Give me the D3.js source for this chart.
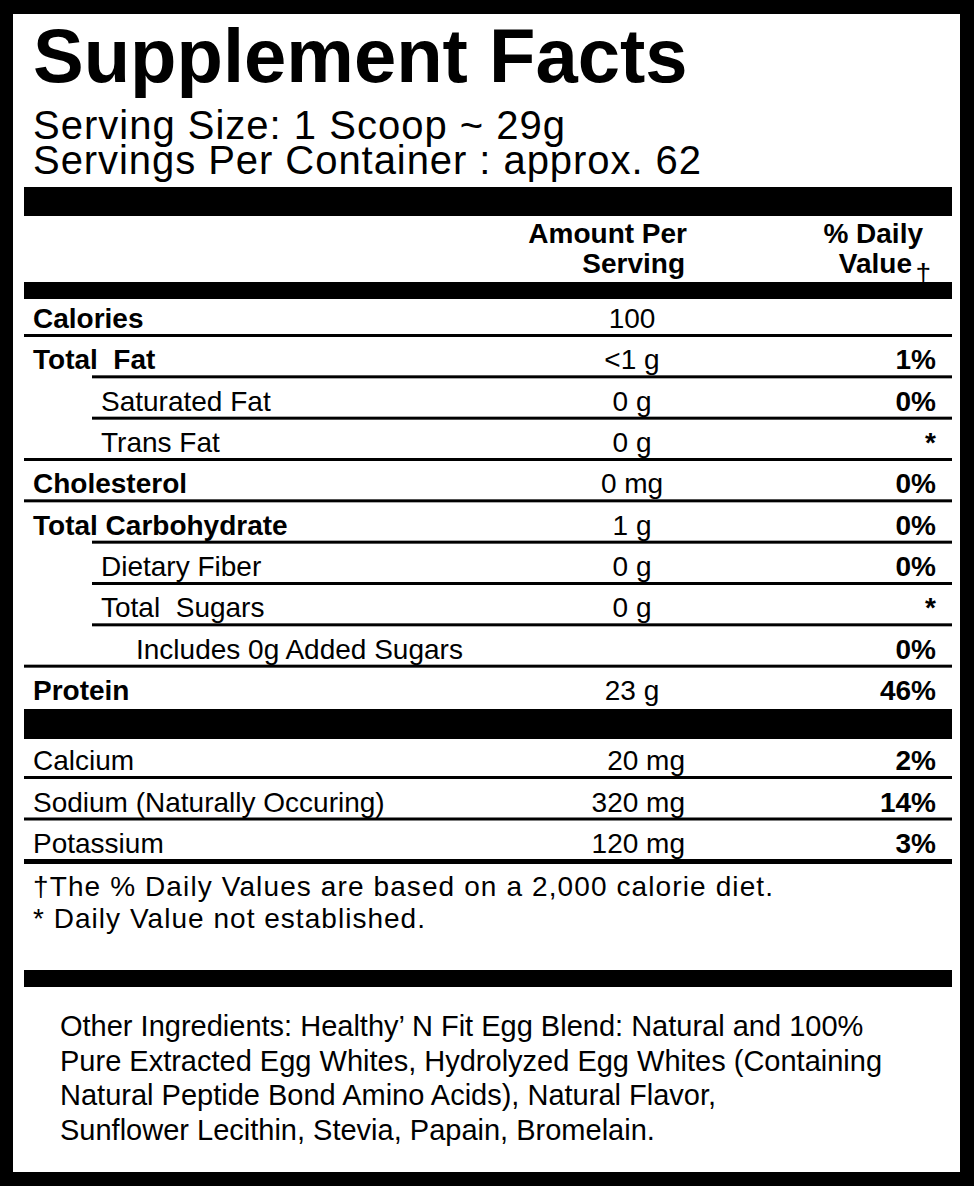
<!DOCTYPE html>
<html>
<head>
<meta charset="utf-8">
<script src="https://cdn.jsdelivr.net/npm/d3@7"></script>
<style>
  body { margin: 0; background: #fff; }
  text { font-family: "Liberation Sans", Arial, sans-serif; fill: #000; white-space: pre; }
</style>
</head>
<body>
<div id="chart"></div>
<script>
const nutrients = ['Calories', 'Total  Fat', 'Saturated Fat', 'Trans Fat', 'Cholesterol', 'Total Carbohydrate', 'Dietary Fiber', 'Total  Sugars', 'Includes 0g Added Sugars', 'Protein']
const amounts = ['100', '<1 g', '0 g', '0 g', '0 mg', '1 g', '0 g', '0 g', '', '23 g']
const dailyValues = ['', '1%', '0%', '*', '0%', '0%', '0%', '*', '0%', '46%']
const indents = [0, 0, 1, 1, 0, 0, 1, 1, 2, 0]
const boldNames = [true, true, false, false, true, true, false, false, false, true]

const minerals = ['Calcium', 'Sodium (Naturally Occuring)', 'Potassium']
const mineralAmounts = ['20 mg', '320 mg', '120 mg']
const mineralDV = ['2%', '14%', '3%']

const footnotes = ['\u2020The % Daily Values are based on a 2,000 calorie diet.', '* Daily Value not established.']
const ingredients = [
  'Other Ingredients: Healthy\u2019 N Fit Egg Blend: Natural and 100%',
  'Pure Extracted Egg Whites, Hydrolyzed Egg Whites (Containing',
  'Natural Peptide Bond Amino Acids), Natural Flavor,',
  'Sunflower Lecithin, Stevia, Papain, Bromelain.'
]

const W = 974
const H = 1186
const left = 24
const right = 952

const svg = d3.select('#chart').append('svg')
  .attr('width', W)
  .attr('height', H)

// outer border
svg.append('rect').attr('width', W).attr('height', H).attr('fill', '#000')
svg.append('rect').attr('x', 13).attr('y', 14).attr('width', W - 27).attr('height', H - 28).attr('fill', '#fff')

const bar = (y, h) => svg.append('rect').attr('x', left).attr('y', y).attr('width', right - left).attr('height', h).attr('fill', '#000')
const rule = (x1, y, h) => svg.append('rect').attr('x', x1).attr('y', y).attr('width', right - x1).attr('height', h).attr('fill', '#000')

// title block
svg.append('text').attr('x', 33).attr('y', 82)
  .style('font-size', '76px').style('font-weight', 'bold').text('Supplement Facts')
svg.append('text').attr('x', 33).attr('y', 139).style('font-size', '40px').attr('textLength', 532).text('Serving Size: 1 Scoop ~ 29g')
svg.append('text').attr('x', 33).attr('y', 174).style('font-size', '40px').attr('textLength', 668).text('Servings Per Container : approx. 62')

bar(187, 29)

// header
const hdr = svg.append('g').style('font-size', '28px').style('font-weight', 'bold').attr('text-anchor', 'end')
hdr.append('text').attr('x', 687).attr('y', 243).text('Amount Per')
hdr.append('text').attr('x', 685).attr('y', 273).text('Serving')
hdr.append('text').attr('x', 923).attr('y', 243).text('% Daily')
hdr.append('text').attr('x', 912).attr('y', 273).text('Value')
hdr.append('text').attr('x', 931).attr('y', 283).style('font-weight', 'normal').text('\u2020')

bar(282, 17)

// main rows
const y = d3.scaleLinear().domain([0, nutrients.length - 1]).range([328, 700])
const indentX = [33, 101, 136]
const ruleX = [left, 92, 92]
const rows = svg.append('g').style('font-size', '28px')

nutrients.forEach((name, i) => {
  rows.append('text').attr('x', indentX[indents[i]]).attr('y', y(i))
    .style('font-weight', boldNames[i] ? 'bold' : 'normal').text(name)
  rows.append('text').attr('x', 632).attr('y', y(i)).attr('text-anchor', 'middle').text(amounts[i])
  rows.append('text').attr('x', 936).attr('y', y(i)).attr('text-anchor', 'end')
    .style('font-weight', 'bold').text(dailyValues[i])
  if (i < nutrients.length - 1) {
    const nextIndent = indents[i + 1]
    rule(ruleX[nextIndent], y(i) + 6, 3)
  }
})

bar(709, 30)

// minerals
const ym = d3.scaleLinear().domain([0, minerals.length - 1]).range([770, 853])
minerals.forEach((name, i) => {
  rows.append('text').attr('x', 33).attr('y', ym(i)).text(name)
  rows.append('text').attr('x', 685).attr('y', ym(i)).attr('text-anchor', 'end').text(mineralAmounts[i])
  rows.append('text').attr('x', 936).attr('y', ym(i)).attr('text-anchor', 'end')
    .style('font-weight', 'bold').text(mineralDV[i])
  rule(left, ym(i) + 6, i === minerals.length - 1 ? 5 : 3)
})

// footnotes
footnotes.forEach((t, i) => {
  svg.append('text').attr('x', 33).attr('y', 896 + i * 32).style('font-size', '28px').attr('textLength', i === 0 ? 740 : 392).text(t)
})

bar(970, 17)

ingredients.forEach((t, i) => {
  svg.append('text').attr('x', 60).attr('y', 1036 + i * 34.5).style('font-size', '29px').text(t)
})
</script>
</body>
</html>
